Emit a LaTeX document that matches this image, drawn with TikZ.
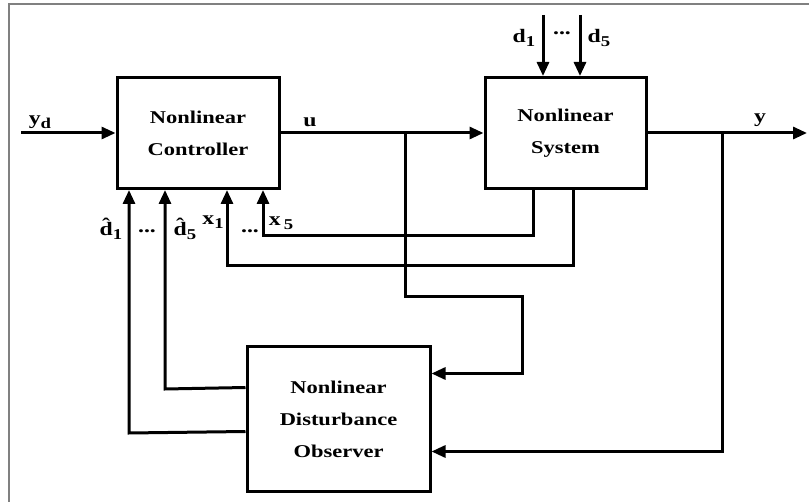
\documentclass[tikz,border=0pt]{standalone}
\usepackage{fontspec}
\setmainfont{Liberation Serif}
\newfontfamily\wideserif{Liberation Serif}[FakeStretch=1.25]
\usetikzlibrary{arrows.meta,calc}
\newcommand\lsub[1]{\raisebox{-0.45ex}{\fontsize{15pt}{15pt}\selectfont #1}}
\begin{document}
\begin{tikzpicture}[x=1pt,y=-1pt,
  blk/.style={draw,line width=3pt,align=center,font=\wideserif\fontsize{18pt}{32pt}\selectfont\bfseries,inner sep=0pt},
  wire/.style={line width=3pt},
  arr/.style={wire,-{Triangle[length=14pt,width=12pt]}},
  lbl/.style={font=\wideserif\fontsize{19pt}{19pt}\selectfont\bfseries,inner sep=0pt}]
\useasboundingbox (0,0) rectangle (809,502);
\draw[gray,line width=2pt] (9,502) -- (9,4) -- (809,4);

\node[blk,minimum width=162pt,minimum height=111pt] (ctrl) at (198,133) {Nonlinear\\Controller};
\node[blk,minimum width=161pt,minimum height=111pt] (sys) at (565.5,133) {Nonlinear\\System};
\node[blk,minimum width=183pt,minimum height=145pt] (obs) at (338.5,419.5) {Nonlinear\\Disturbance\\Observer};

\coordinate (ydin) at (21,133);
\coordinate (yout) at (807,133);
\coordinate (ub) at (405,133);
\coordinate (ubr) at (522,297);
\coordinate (yb) at (722,133);
\coordinate (d1in) at (543,15);
\coordinate (d5in) at (580,15);
\coordinate (x5a) at (533,236);
\coordinate (x5b) at (263,236);
\coordinate (x1a) at (573,266);
\coordinate (x1b) at (227,266);
\coordinate (h5b) at (165,389);
\coordinate (h1b) at (129,433);

\draw[arr] (ydin) -- (ctrl.west);
\draw[arr] (ctrl.east) -- (sys.west);
\draw[arr] (sys.east) -- (yout);
\draw[arr] (ub) |- (ubr) |- ($(obs.north east)+(0,28)$);
\draw[arr] (yb) |- ($(obs.south east)+(0,-42)$);
\draw[arr] (d1in) -- (d1in |- sys.north);
\draw[arr] (d5in) -- (d5in |- sys.north);
\draw[arr] (x5a |- sys.south) -- (x5a) -- (x5b) -- (x5b |- ctrl.south);
\draw[arr] (x1a |- sys.south) -- (x1a) -- (x1b) -- (x1b |- ctrl.south);
\draw[arr] ($(obs.north west)+(0,42)$) -- (h5b) -- (h5b |- ctrl.south);
\draw[arr] ($(obs.north west)+(0,86)$) -- (h1b) -- (h1b |- ctrl.south);

\node[lbl] (lyd) at (40,122) {y\lsub{d}};
\node[lbl] (lu) at (310,122) {u};
\node[lbl] (lh1) at (111,229) {\^{d}\lsub{1}};
\node[lbl] (ldots1) at (147,231) {...};
\node[lbl] (lh5) at (185,229) {\^{d}\lsub{5}};
\node[lbl] (lx1) at (213,222) {x\lsub{1}};
\node[lbl] (ldots2) at (250,231) {...};
\node[lbl] (lx5) at (281,223) {x\,\lsub{5}};
\node[lbl] (ld1) at (524,38) {d\lsub{1}};
\node[lbl] (ldots3) at (562,33) {...};
\node[lbl] (ld5) at (599,38) {d\lsub{5}};
\node[lbl] (ly) at (760,120) {y};
\end{tikzpicture}
\end{document}
